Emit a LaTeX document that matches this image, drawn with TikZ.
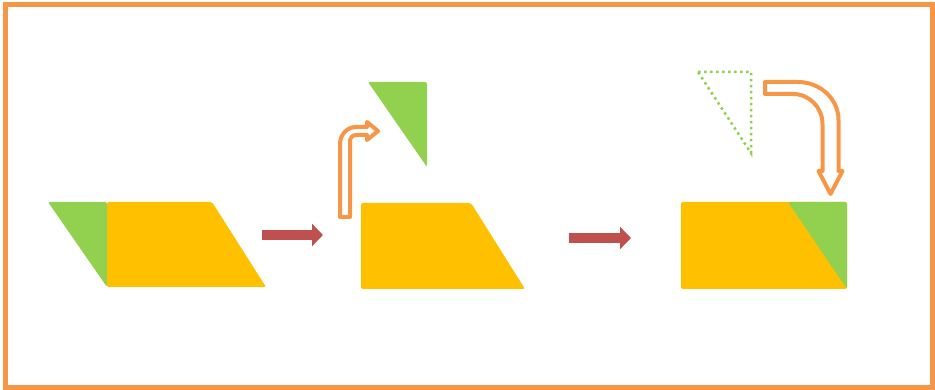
\documentclass[tikz,border=0pt]{standalone}
\usepackage{tikz}
\usetikzlibrary{arrows.meta}

\definecolor{piezayellow}{HTML}{FFC000}
\definecolor{piezagreen}{HTML}{92D050}
\definecolor{frameorange}{HTML}{F79646}
\definecolor{stepred}{HTML}{C0504D}

\begin{document}
\begin{tikzpicture}[
    x=1pt, y=-1pt,
    piece/.style   = {rounded corners=2pt, draw=none},
    body/.style    = {piece, fill=piezayellow},
    wedge/.style   = {piece, fill=piezagreen},
    ghost/.style   = {draw=piezagreen, line width=2.5pt,
                      dash pattern=on 2.5pt off 3.5pt},
    stepto/.style  = {draw=stepred, line width=10pt,
                      -{Triangle[length=11pt, width=22pt]}},
    bent/.style    = {draw=frameorange, fill=white, line width=4pt,
                      line join=round}
]
\useasboundingbox (0,0) rectangle (935,390);

%% ── Marco ───────────────────────────────────────────────────────────────────
\draw[frameorange, line width=5pt] (5.5,5) rectangle (932,387);

%% ── Paralelogramo inicial ──────────────────────────────────────────────────
\fill[body]  (107,202) -- (212,202) -- (266,287) -- (107,287) -- cycle;
\fill[wedge] (48,202) -- (107,202) -- (107,287) -- cycle;

%% ── Paso 1: recorte del triángulo ──────────────────────────────────────────
\coordinate (s1a) at (262,235);
\coordinate (s1b) at (323,235);
\draw[stepto] (s1a) -- (s1b);

\fill[body]  (361,203) -- (471,203) -- (525,289) -- (361,289) -- cycle;
\fill[wedge] (368,82) -- (427,82) -- (427,167) -- cycle;

\draw[bent] (340,217) -- (340,144)
    .. controls (340,134.6) and (347.2,127) .. (356,127)
    -- (367,127) -- (367,122) -- (378,131) -- (367,140) -- (367,135)
    -- (356,135) .. controls (352.7,135) and (350,137.7) .. (350,141)
    -- (350,217) -- cycle;

%% ── Paso 2: traslado al otro lado ──────────────────────────────────────────
\coordinate (s2a) at (569,238);
\coordinate (s2b) at (631,238);
\draw[stepto] (s2a) -- (s2b);

\draw[ghost] (698,72) -- (751,72) -- (751,153) -- cycle;

\draw[bent] (765,82) -- (798,82)
    .. controls (820.3,82) and (838.5,99.1) .. (838.5,120)
    -- (838.5,171) -- (842.5,171) -- (830.5,194) -- (818.5,171)
    -- (822.5,171) -- (822.5,124)
    .. controls (822.5,107.5) and (809.2,94) .. (793,94)
    -- (765,94) -- cycle;

%% ── Rectángulo final ───────────────────────────────────────────────────────
\fill[body]  (681,202) -- (847,202) -- (847,289) -- (681,289) -- cycle;
\fill[wedge] (788,202) -- (847,202) -- (847,289) -- cycle;

\end{tikzpicture}
\end{document}
